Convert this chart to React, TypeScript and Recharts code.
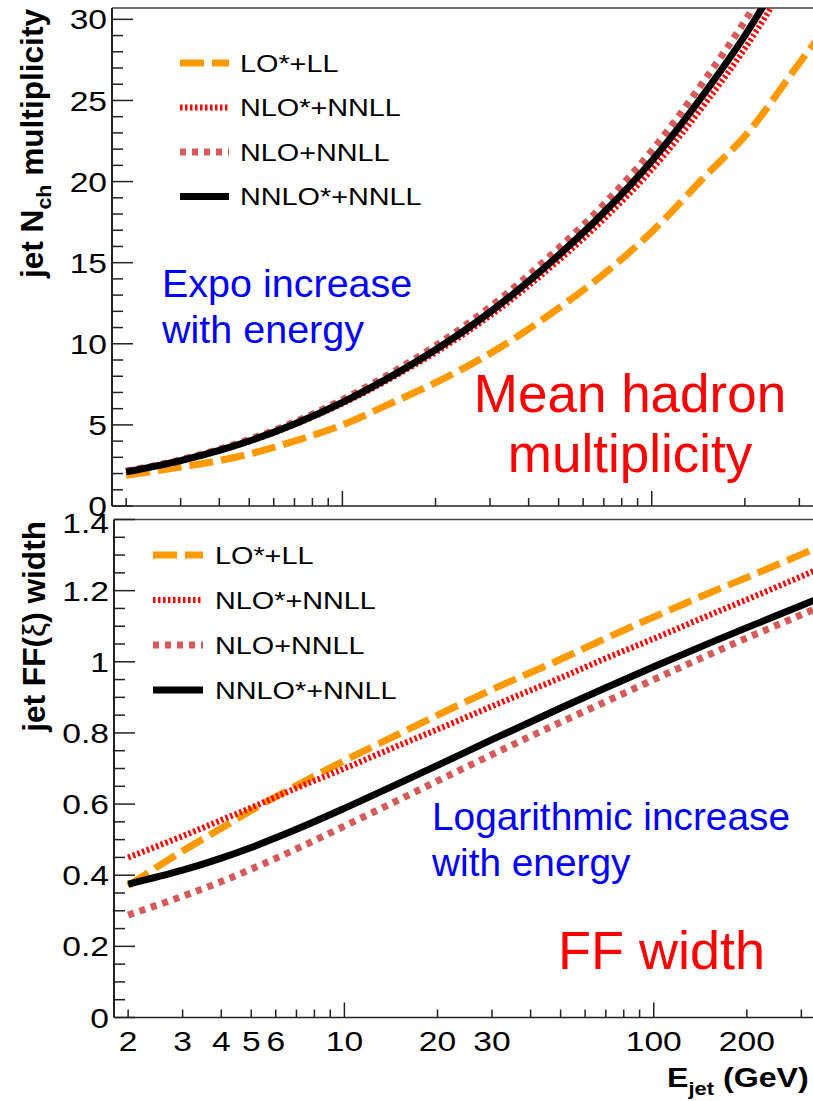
import { LineChart, Line, XAxis, YAxis, Legend, ReferenceLine } from 'recharts'

// Jet energy grid (GeV), shared by both panels
const energies = [2, 3, 4, 5, 7, 10, 15, 20, 30, 50, 70, 100, 150, 200, 300, 350]

// Mean charged-hadron multiplicity in the jet
const multLO = [1.9, 2.4, 2.8, 3.2, 4.0, 5.0, 6.5, 7.6, 9.4, 12.2, 14.3, 16.9, 20.4, 22.8, 27.3, 29.0]
const multNLOstar = [2.1, 2.79, 3.41, 3.98, 5.01, 6.31, 8.07, 9.47, 11.73, 15.14, 17.68, 20.74, 24.9, 28.2, 33.6, 35.7]
const multNLO = [2.15, 2.85, 3.5, 4.1, 5.17, 6.55, 8.4, 9.88, 12.27, 15.9, 18.6, 21.9, 26.4, 29.9, 35.6, 37.9]
const multNNLOstar = [2.1, 2.8, 3.43, 4.01, 5.06, 6.39, 8.19, 9.63, 11.95, 15.46, 18.09, 21.27, 25.6, 29.0, 34.6, 36.8]

// Width of the FF(xi) distribution
const ffLO = [0.37, 0.468, 0.532, 0.582, 0.652, 0.722, 0.797, 0.85, 0.922, 1.007, 1.066, 1.126, 1.192, 1.237, 1.302, 1.327]
const ffNLOstar = [0.45, 0.51, 0.555, 0.59, 0.645, 0.7, 0.765, 0.81, 0.875, 0.955, 1.01, 1.065, 1.13, 1.175, 1.24, 1.265]
const ffNLO = [0.288, 0.341, 0.382, 0.417, 0.474, 0.538, 0.612, 0.665, 0.739, 0.83, 0.888, 0.95, 1.019, 1.067, 1.132, 1.157]
const ffNNLOstar = [0.375, 0.414, 0.448, 0.478, 0.529, 0.588, 0.658, 0.709, 0.781, 0.87, 0.927, 0.986, 1.051, 1.096, 1.158, 1.182]

// Axis ticks
const xTicks = [2, 3, 4, 5, 6, 7, 8, 9, 10, 20, 30, 40, 50, 60, 70, 80, 90, 100, 200, 300, 400]
const xTickLabels = [2, 3, 4, 5, 6, 10, 20, 30, 100, 200]
const multMajor = [0, 5, 10, 15, 20, 25, 30]
const multTicks = Array.from({ length: 31 }, (_, i) => i)
const ffMajor = [0, 0.2, 0.4, 0.6, 0.8, 1, 1.2, 1.4]
const ffTicks = Array.from({ length: 29 }, (_, i) => Math.round(i * 5) / 100)

const X_DOMAIN: [number, number] = [1.8, 400]
const MULT_MAX = 30.7
const FF_MAX = 1.4

const FONT = '"Liberation Sans", Arial, Helvetica, sans-serif'
const AXIS = '#222'
const PLOT_W = 726

const series = [
  { key: 'lo', name: 'LO*+LL', color: '#ff9900', width: 7, dash: '24 8' },
  { key: 'nlo', name: 'NLO+NNLL', color: '#d65a5a', width: 7, dash: '6 6' },
  { key: 'nloStar', name: 'NLO*+NNLL', color: '#ff0000', width: 6, dash: '2.5 2.5' },
  { key: 'nnloStar', name: 'NNLO*+NNLL', color: '#000000', width: 7, dash: undefined },
]
const legendOrder = ['lo', 'nloStar', 'nlo', 'nnloStar']

const multData = energies.map((e, i) => ({
  e,
  lo: multLO[i],
  nloStar: multNLOstar[i],
  nlo: multNLO[i],
  nnloStar: multNNLOstar[i],
}))

const ffData = energies.map((e, i) => ({
  e,
  lo: ffLO[i],
  nloStar: ffNLOstar[i],
  nlo: ffNLO[i],
  nnloStar: ffNNLOstar[i],
}))

// ROOT-style text: a bit wider than the plain font
function RootText({ x, y, size, anchor = 'start', bold = false, rotate = 0, sx = 1.2, dy, children }: any) {
  return (
    <text
      transform={`translate(${x},${y}) rotate(${rotate}) scale(${sx},1)`}
      textAnchor={anchor}
      dy={dy}
      fontSize={size}
      fontFamily={FONT}
      fontWeight={bold ? 'bold' : 'normal'}
      fill="#000"
    >
      {children}
    </text>
  )
}

function YTick(props: any) {
  const { x, y, payload, majors, top } = props
  const v = payload.value
  const major = majors.some((m: number) => Math.abs(m - v) < 1e-6)
  const shift = top !== undefined && Math.abs(v - top) < 1e-6 ? 3.5 : 0
  return (
    <g>
      <line x1={x} x2={x + (major ? 21 : 11)} y1={y} y2={y} stroke={AXIS} strokeWidth={1.5} />
      {major && (
        <RootText x={x - 5} y={y + shift} size={28} anchor="end" dy="0.36em">
          {String(v)}
        </RootText>
      )}
    </g>
  )
}

function XTick(props: any) {
  const { x, y, payload, showLabels } = props
  const v = payload.value
  const major = v === 10 || v === 100
  return (
    <g>
      <line x1={x} x2={x} y1={y} y2={y - (major ? 15 : 8)} stroke={AXIS} strokeWidth={1.5} />
      {showLabels && xTickLabels.includes(v) && (
        <RootText x={x} y={y + 33} size={28} anchor="middle">
          {String(v)}
        </RootText>
      )}
    </g>
  )
}

function LegendBox({ rows, x1, x2, tx }: { rows: number[]; x1: number; x2: number; tx: number }) {
  return (
    <svg width={460} height={220} style={{ display: 'block', overflow: 'visible' }}>
      {legendOrder.map((k, i) => {
        const s = series.find((d) => d.key === k)!
        return (
          <g key={k}>
            <line
              x1={x1}
              x2={x2}
              y1={rows[i]}
              y2={rows[i]}
              stroke={s.color}
              strokeWidth={s.width}
              strokeDasharray={s.dash}
            />
            <RootText x={tx} y={rows[i]} size={24} dy="0.36em">
              {s.name}
            </RootText>
          </g>
        )
      })}
    </svg>
  )
}

function Curves() {
  return series.map((s) => (
    <Line
      key={s.key}
      dataKey={s.key}
      type="monotone"
      stroke={s.color}
      strokeWidth={s.width}
      strokeDasharray={s.dash}
      strokeLinecap="butt"
      dot={false}
      isAnimationActive={false}
    />
  ))
}

export default function App() {
  return (
    <div
      style={{
        position: 'relative',
        width: 813,
        height: 1101,
        overflow: 'hidden',
        background: '#fff',
        fontFamily: FONT,
      }}
    >
      <style>{'html, body { margin: 0; padding: 0; overflow: hidden; }'}</style>

      {/* Upper pad: multiplicity */}
      <div style={{ position: 'absolute', left: 0, top: 0 }}>
        <LineChart width={112 + PLOT_W} height={522} data={multData} margin={{ top: 8, right: 0, bottom: 0, left: 0 }}>
          <XAxis
            dataKey="e"
            type="number"
            scale="log"
            domain={X_DOMAIN}
            allowDataOverflow
            ticks={xTicks}
            interval={0}
            height={16}
            tickSize={0}
            tickMargin={0}
            tickLine={false}
            axisLine={{ stroke: AXIS, strokeWidth: 1.5 }}
            tick={(p: any) => <XTick {...p} showLabels={false} />}
          />
          <YAxis
            type="number"
            domain={[0, MULT_MAX]}
            allowDataOverflow
            ticks={multTicks}
            interval={0}
            width={112}
            tickSize={0}
            tickMargin={0}
            tickLine={false}
            axisLine={{ stroke: AXIS, strokeWidth: 2 }}
            tick={(p: any) => <YTick {...p} majors={multMajor} />}
          />
          <ReferenceLine y={MULT_MAX} stroke="#444" strokeWidth={1.5} />
          {Curves()}
          <Legend
            verticalAlign="middle"
            align="center"
            layout="horizontal"
            wrapperStyle={{ position: 'absolute', left: 0, top: 0, width: 460, height: 220 }}
            content={() => <LegendBox rows={[63, 107.5, 152, 196.5]} x1={180} x2={229} tx={240} />}
          />
        </LineChart>
      </div>

      {/* Lower pad: FF width */}
      <div style={{ position: 'absolute', left: 0, top: 504 }}>
        <LineChart width={114 + PLOT_W} height={593.5} data={ffData} margin={{ top: 15.5, right: 0, bottom: 0, left: 0 }}>
          <XAxis
            dataKey="e"
            type="number"
            scale="log"
            domain={X_DOMAIN}
            allowDataOverflow
            ticks={xTicks}
            interval={0}
            height={80}
            tickSize={0}
            tickMargin={0}
            tickLine={false}
            axisLine={{ stroke: AXIS, strokeWidth: 1.5 }}
            tick={(p: any) => <XTick {...p} showLabels />}
          />
          <YAxis
            type="number"
            domain={[0, FF_MAX]}
            allowDataOverflow
            ticks={ffTicks}
            interval={0}
            width={114}
            tickSize={0}
            tickMargin={0}
            tickLine={false}
            axisLine={{ stroke: AXIS, strokeWidth: 2 }}
            tick={(p: any) => <YTick {...p} majors={ffMajor} top={FF_MAX} />}
          />
          <ReferenceLine y={FF_MAX} stroke="#444" strokeWidth={1.5} />
          {Curves()}
          <Legend
            verticalAlign="middle"
            align="center"
            layout="horizontal"
            wrapperStyle={{ position: 'absolute', left: 0, top: 0, width: 460, height: 230 }}
            content={() => <LegendBox rows={[51, 96, 141, 186]} x1={153} x2={203} tx={215} />}
          />
        </LineChart>
      </div>

      {/* Axis titles and notes */}
      <svg
        width={813}
        height={1101}
        style={{ position: 'absolute', left: 0, top: 0, pointerEvents: 'none' }}
      >
        <RootText x={43} y={9} size={31} bold rotate={-90} sx={1.02} anchor="end">
          jet N
          <tspan fontSize={21} dy={8}>
            ch
          </tspan>
          <tspan dy={-8}> multiplicity</tspan>
        </RootText>
        <RootText x={45} y={521} size={31} bold rotate={-90} sx={1.02} anchor="end">
          jet FF(<tspan fontWeight="normal">ξ</tspan>) width
        </RootText>
        <RootText x={667} y={1087} size={28} bold sx={1.15}>
          E
          <tspan fontSize={19} dy={8}>
            jet
          </tspan>
          <tspan dy={-8}> (GeV)</tspan>
        </RootText>

        <g fontFamily={FONT}>
          <text x={162} y={297} fontSize={39.5} fill="#0000ff">
            Expo increase
          </text>
          <text x={162} y={343} fontSize={39.5} fill="#0000ff">
            with energy
          </text>
          <text x={630} y={412} fontSize={53} fill="#ff0000" textAnchor="middle">
            Mean hadron
          </text>
          <text x={630} y={472} fontSize={53} fill="#ff0000" textAnchor="middle">
            multiplicity
          </text>
          <text x={432} y={830} fontSize={38.8} fill="#0000ff">
            Logarithmic increase
          </text>
          <text x={432} y={876} fontSize={38.8} fill="#0000ff">
            with energy
          </text>
          <text x={558} y={969} fontSize={54} fill="#ff0000">
            FF width
          </text>
        </g>
      </svg>
    </div>
  )
}
